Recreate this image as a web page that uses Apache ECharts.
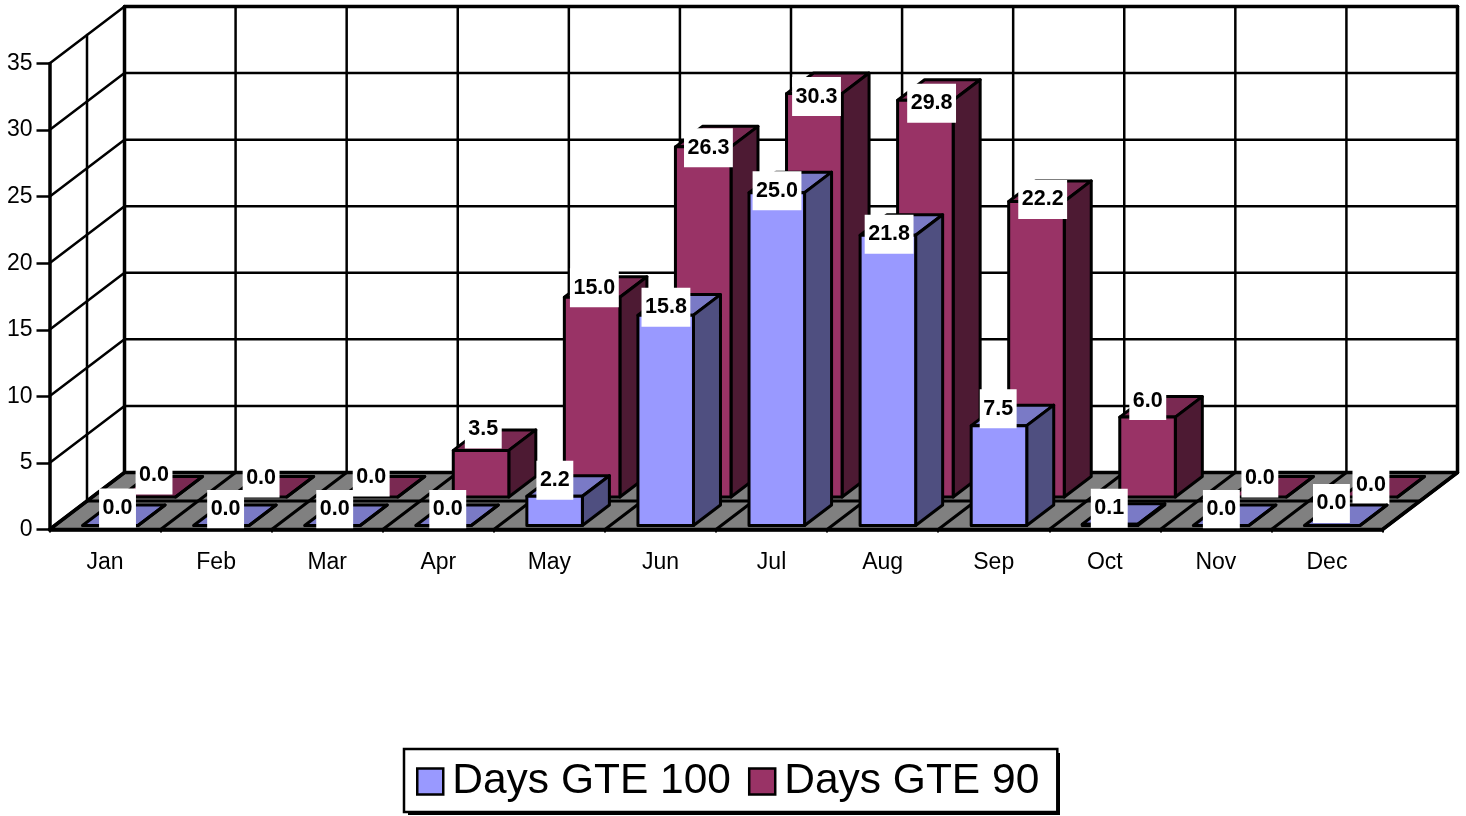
<!DOCTYPE html>
<html lang="en">
<head>
    <meta charset="UTF-8">
    <title>Days GTE 100 / GTE 90</title>
    <script src="https://cdn.jsdelivr.net/npm/echarts@6/dist/echarts.min.js"></script>
    <style>
        html, body { margin: 0; padding: 0; background: #fff; }
        #chart { width: 1466px; height: 816px; }
    </style>
</head>
<body>
    <div id="chart"></div>
    <script>
        // data
        const months = ['Jan', 'Feb', 'Mar', 'Apr', 'May', 'Jun', 'Jul', 'Aug', 'Sep', 'Oct', 'Nov', 'Dec'];
        const daysGte100 = [0.0, 0.0, 0.0, 0.0, 2.2, 15.8, 25.0, 21.8, 7.5, 0.1, 0.0, 0.0];
        const daysGte90 = [0.0, 0.0, 0.0, 3.5, 15.0, 26.3, 30.3, 29.8, 22.2, 6.0, 0.0, 0.0];
        const yTicks = [0, 5, 10, 15, 20, 25, 30, 35];

        // label nudges in px, relative to the front-top-left corner of the bar
        const labelDx100 = [35, 32, 30, 32, 28, 28, 28, 29, 27, 27, 28, 27];
        const labelDy100 = [-17.5, -16, -16, -16, -16, -8, -2, -1, -17, -16, -16, -22];
        const labelDx90 = [34, 30, 29, 30, 30, 33, 30, 34, 34, 28, 29, 29];
        const labelDy90 = [-22, -19, -20, -21.5, -9.5, 1, 3, 3, -2, -16.5, -19, -12];

        // oblique projection of the 3D box
        const DEPTH_X = 75;
        const DEPTH_Y = -57;
        const FONT = '"Liberation Sans", Arial, sans-serif';

        function shift(p, d) {
            return [p[0] + DEPTH_X * d, p[1] + DEPTH_Y * d];
        }

        function line(a, b, w) {
            return {
                type: 'line',
                shape: { x1: a[0], y1: a[1], x2: b[0], y2: b[1] },
                style: { stroke: '#000', lineWidth: w, lineCap: 'round' }
            };
        }

        function poly(points, fill, w) {
            return {
                type: 'polygon',
                shape: { points: points },
                style: { fill: fill, stroke: '#000', lineWidth: w, lineJoin: 'round' }
            };
        }

        // floor and walls, drawn once
        function renderWalls(params, api) {
            if (params.dataIndex !== 0) return;
            const band = api.size([1, 0])[0];
            const first = api.coord([0, 0]);
            const x0 = first[0] - band / 2;
            const y0 = first[1];
            const x1 = x0 + band * months.length;
            const children = [];

            children.push(poly([[x0, y0], [x1, y0], shift([x1, y0], 1), shift([x0, y0], 1)], '#808080', 3.5));
            children.push(line(shift([x0, y0], 0.5), shift([x1, y0], 0.5), 3));
            for (let i = 0; i <= months.length; i++) {
                children.push(line([x0 + band * i, y0], shift([x0 + band * i, y0], 1), 3));
            }

            const yTop = api.coord([0, yTicks[yTicks.length - 1]])[1];
            yTicks.forEach(function (t) {
                const y = api.coord([0, t])[1];
                if (t > 0) {
                    children.push(line([x0, y], shift([x0, y], 1), 2.5));
                    children.push(line(shift([x0, y], 1), shift([x1, y], 1), t === 35 ? 3.5 : 2.5));
                }
            });
            for (let i = 0; i <= months.length; i++) {
                const w = (i === 0 || i === months.length) ? 3.5 : 2.5;
                children.push(line(shift([x0 + band * i, y0], 1), shift([x0 + band * i, yTop], 1), w));
            }
            children.push(line(shift([x0, y0], 0.5), shift([x0, yTop], 0.5), 2.5));

            return { type: 'group', children: children };
        }

        // one box per month: depth range d0..d1 on the floor, plus its white label
        function barRenderer(d0, d1, faces, labelDx, labelDy) {
            return function (params, api) {
                const i = params.dataIndex;
                const value = api.value(1);
                const band = api.size([1, 0])[0];
                const w = band / 2;
                const base = api.coord([i, 0]);
                const top = api.coord([i, value]);
                const bl = shift([base[0] - w / 2, base[1]], d0);
                const br = shift([base[0] + w / 2, base[1]], d0);
                const tl = shift([top[0] - w / 2, top[1]], d0);
                const tr = shift([top[0] + w / 2, top[1]], d0);
                const d = d1 - d0;
                const children = [
                    poly([tl, tr, shift(tr, d), shift(tl, d)], faces.top, 3),
                    poly([br, tr, shift(tr, d), shift(br, d)], faces.side, 3)
                ];
                if (value > 0) {
                    children.push(poly([bl, br, tr, tl], faces.front, 3));
                }
                children.push({
                    type: 'text',
                    z2: 50,
                    style: {
                        x: tl[0] + labelDx[i],
                        y: tl[1] + labelDy[i],
                        text: value.toFixed(1),
                        fill: '#000',
                        fontFamily: FONT,
                        fontWeight: 'bold',
                        fontSize: 21.5,
                        lineHeight: 24,
                        align: 'center',
                        verticalAlign: 'middle',
                        backgroundColor: '#fff',
                        padding: [7.5, 3.5]
                    }
                });
                return { type: 'group', children: children };
            };
        }

        const chart = echarts.init(document.getElementById('chart'));

        chart.setOption({
            animation: false,
            backgroundColor: '#fff',
            grid: { left: 49.5, right: 83.5, top: 63.5, bottom: 286.5 },
            // drop shadow of the legend box (canvas shadow on the legend doubles its border)
            graphic: [{
                type: 'rect',
                z: 1,
                silent: true,
                shape: { x: 408, y: 753, width: 652, height: 62 },
                style: { fill: '#000' }
            }],
            xAxis: {
                type: 'category',
                data: months,
                z: 5,
                axisLine: { lineStyle: { color: '#000', width: 3.5 } },
                axisTick: { show: true, length: 3, lineStyle: { color: '#000', width: 2 } },
                axisLabel: { color: '#000', fontFamily: FONT, fontSize: 23, margin: 22 }
            },
            yAxis: {
                type: 'value',
                min: 0,
                max: 35,
                interval: 5,
                z: 5,
                splitLine: { show: false },
                axisLine: { show: true, lineStyle: { color: '#000', width: 3.5 } },
                axisTick: { show: true, length: 13, lineStyle: { color: '#000', width: 2.5 } },
                axisLabel: { color: '#000', fontFamily: FONT, fontSize: 23, margin: 17 }
            },
            legend: {
                left: 404,
                top: 749,
                orient: 'horizontal',
                z: 10,
                backgroundColor: '#fff',
                borderColor: '#000',
                borderWidth: 2.5,
                padding: [11, 18, 9, 12],
                itemWidth: 26,
                itemHeight: 26,
                itemGap: 17,
                selectedMode: false,
                textStyle: { color: '#000', fontFamily: FONT, fontSize: 42.5, padding: [6, 0, 0, 4] },
                data: [
                    { name: 'Days GTE 100', icon: 'rect', itemStyle: { color: '#9999ff', borderColor: '#000', borderWidth: 2.5 } },
                    { name: 'Days GTE 90', icon: 'rect', itemStyle: { color: '#993366', borderColor: '#000', borderWidth: 2.5 } }
                ]
            },
            series: [
                {
                    name: 'walls',
                    type: 'custom',
                    z: 2,
                    silent: true,
                    renderItem: renderWalls,
                    data: [[0, 0]],
                    clip: false
                },
                {
                    name: 'Days GTE 90',
                    type: 'custom',
                    z: 3,
                    silent: true,
                    itemStyle: { color: '#993366' },
                    renderItem: barRenderer(0.57, 0.93, { front: '#993366', top: '#7a2952', side: '#4d1a33' }, labelDx90, labelDy90),
                    data: daysGte90.map(function (v, i) { return [i, v]; }),
                    clip: false
                },
                {
                    name: 'Days GTE 100',
                    type: 'custom',
                    z: 4,
                    silent: true,
                    itemStyle: { color: '#9999ff' },
                    renderItem: barRenderer(0.07, 0.43, { front: '#9999ff', top: '#7a7ac6', side: '#4f4f80' }, labelDx100, labelDy100),
                    data: daysGte100.map(function (v, i) { return [i, v]; }),
                    clip: false
                }
            ]
        });
    </script>
</body>
</html>
